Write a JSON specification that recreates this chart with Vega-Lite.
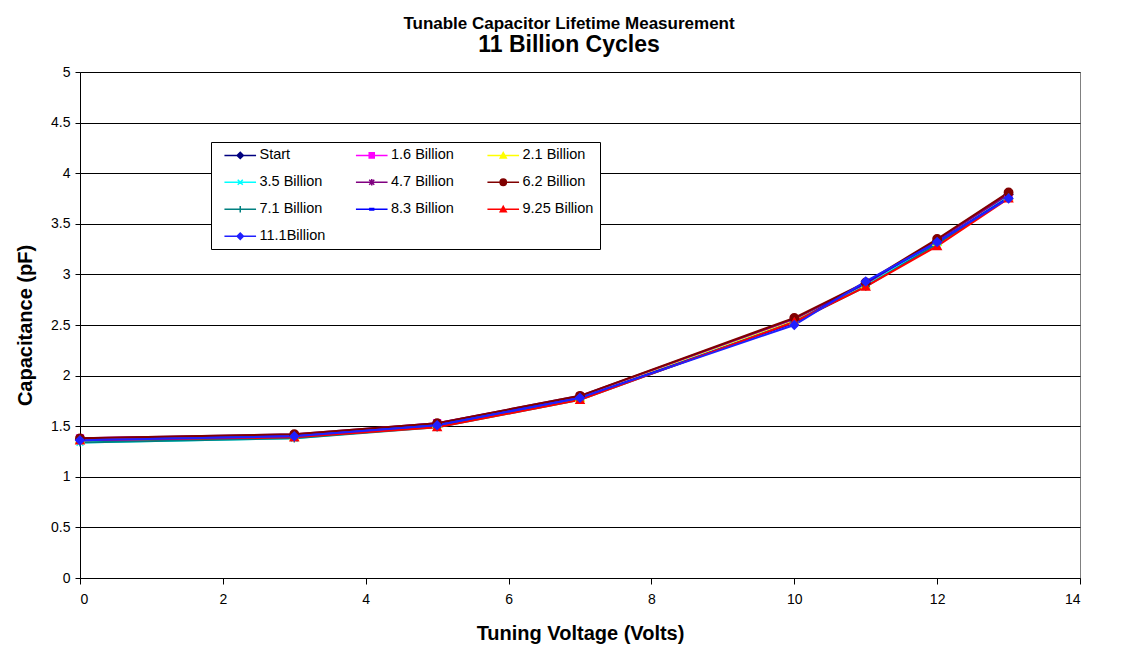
{
  "$schema": "https://vega.github.io/schema/vega-lite/v6.json",
  "width": 1000,
  "height": 506,
  "autosize": {"type": "none"},
  "padding": {"left": 80, "top": 72, "right": 58, "bottom": 77},
  "background": "white",
  "title": {
    "text": "Tunable Capacitor Lifetime Measurement",
    "subtitle": "11 Billion Cycles",
    "font": "Liberation Sans",
    "fontSize": 17,
    "fontWeight": "bold",
    "color": "black",
    "subtitleFont": "Liberation Sans",
    "subtitleFontSize": 23,
    "subtitleFontWeight": "bold",
    "subtitleColor": "black",
    "subtitlePadding": 1,
    "anchor": "middle",
    "dx": -11,
    "offset": 7
  },
  "data": {
    "values": [
      {"v": 0, "c": 1.37, "s": "Start"}, {"v": 3, "c": 1.41, "s": "Start"}, {"v": 5, "c": 1.52, "s": "Start"}, {"v": 7, "c": 1.79, "s": "Start"}, {"v": 10, "c": 2.55, "s": "Start"}, {"v": 11, "c": 2.91, "s": "Start"}, {"v": 12, "c": 3.33, "s": "Start"}, {"v": 13, "c": 3.79, "s": "Start"},
      {"v": 0, "c": 1.38, "s": "1.6 Billion"}, {"v": 3, "c": 1.41, "s": "1.6 Billion"}, {"v": 5, "c": 1.53, "s": "1.6 Billion"}, {"v": 7, "c": 1.79, "s": "1.6 Billion"}, {"v": 10, "c": 2.55, "s": "1.6 Billion"}, {"v": 11, "c": 2.9, "s": "1.6 Billion"}, {"v": 12, "c": 3.32, "s": "1.6 Billion"}, {"v": 13, "c": 3.78, "s": "1.6 Billion"},
      {"v": 0, "c": 1.37, "s": "2.1 Billion"}, {"v": 3, "c": 1.4, "s": "2.1 Billion"}, {"v": 5, "c": 1.52, "s": "2.1 Billion"}, {"v": 7, "c": 1.78, "s": "2.1 Billion"}, {"v": 10, "c": 2.54, "s": "2.1 Billion"}, {"v": 11, "c": 2.9, "s": "2.1 Billion"}, {"v": 12, "c": 3.32, "s": "2.1 Billion"}, {"v": 13, "c": 3.77, "s": "2.1 Billion"},
      {"v": 0, "c": 1.34, "s": "3.5 Billion"}, {"v": 3, "c": 1.38, "s": "3.5 Billion"}, {"v": 5, "c": 1.5, "s": "3.5 Billion"}, {"v": 7, "c": 1.77, "s": "3.5 Billion"}, {"v": 10, "c": 2.53, "s": "3.5 Billion"}, {"v": 11, "c": 2.89, "s": "3.5 Billion"}, {"v": 12, "c": 3.31, "s": "3.5 Billion"}, {"v": 13, "c": 3.77, "s": "3.5 Billion"},
      {"v": 0, "c": 1.38, "s": "4.7 Billion"}, {"v": 3, "c": 1.42, "s": "4.7 Billion"}, {"v": 5, "c": 1.53, "s": "4.7 Billion"}, {"v": 7, "c": 1.8, "s": "4.7 Billion"}, {"v": 10, "c": 2.56, "s": "4.7 Billion"}, {"v": 11, "c": 2.91, "s": "4.7 Billion"}, {"v": 12, "c": 3.34, "s": "4.7 Billion"}, {"v": 13, "c": 3.79, "s": "4.7 Billion"},
      {"v": 0, "c": 1.38, "s": "6.2 Billion"}, {"v": 3, "c": 1.42, "s": "6.2 Billion"}, {"v": 5, "c": 1.53, "s": "6.2 Billion"}, {"v": 7, "c": 1.8, "s": "6.2 Billion"}, {"v": 10, "c": 2.57, "s": "6.2 Billion"}, {"v": 11, "c": 2.92, "s": "6.2 Billion"}, {"v": 12, "c": 3.35, "s": "6.2 Billion"}, {"v": 13, "c": 3.81, "s": "6.2 Billion"},
      {"v": 0, "c": 1.34, "s": "7.1 Billion"}, {"v": 3, "c": 1.38, "s": "7.1 Billion"}, {"v": 5, "c": 1.49, "s": "7.1 Billion"}, {"v": 7, "c": 1.76, "s": "7.1 Billion"}, {"v": 10, "c": 2.53, "s": "7.1 Billion"}, {"v": 11, "c": 2.88, "s": "7.1 Billion"}, {"v": 12, "c": 3.3, "s": "7.1 Billion"}, {"v": 13, "c": 3.76, "s": "7.1 Billion"},
      {"v": 0, "c": 1.36, "s": "8.3 Billion"}, {"v": 3, "c": 1.4, "s": "8.3 Billion"}, {"v": 5, "c": 1.51, "s": "8.3 Billion"}, {"v": 7, "c": 1.78, "s": "8.3 Billion"}, {"v": 10, "c": 2.52, "s": "8.3 Billion"}, {"v": 11, "c": 2.92, "s": "8.3 Billion"}, {"v": 12, "c": 3.32, "s": "8.3 Billion"}, {"v": 13, "c": 3.76, "s": "8.3 Billion"},
      {"v": 0, "c": 1.36, "s": "9.25 Billion"}, {"v": 3, "c": 1.39, "s": "9.25 Billion"}, {"v": 5, "c": 1.49, "s": "9.25 Billion"}, {"v": 7, "c": 1.76, "s": "9.25 Billion"}, {"v": 10, "c": 2.53, "s": "9.25 Billion"}, {"v": 11, "c": 2.88, "s": "9.25 Billion"}, {"v": 12, "c": 3.28, "s": "9.25 Billion"}, {"v": 13, "c": 3.75, "s": "9.25 Billion"},
      {"v": 0, "c": 1.36, "s": "11.1Billion"}, {"v": 3, "c": 1.4, "s": "11.1Billion"}, {"v": 5, "c": 1.51, "s": "11.1Billion"}, {"v": 7, "c": 1.78, "s": "11.1Billion"}, {"v": 10, "c": 2.5, "s": "11.1Billion"}, {"v": 11, "c": 2.93, "s": "11.1Billion"}, {"v": 12, "c": 3.32, "s": "11.1Billion"}, {"v": 13, "c": 3.75, "s": "11.1Billion"}
    ]
  },
  "encoding": {
    "x": {
      "field": "v",
      "type": "quantitative",
      "scale": {"domain": [0, 14], "nice": false},
      "axis": {
        "title": "Tuning Voltage (Volts)",
        "values": [0, 2, 4, 6, 8, 10, 12, 14],
        "grid": false,
        "tickSize": 6,
        "labelPadding": 8,
        "titlePadding": 17
      }
    },
    "y": {
      "field": "c",
      "type": "quantitative",
      "scale": {"domain": [0, 5], "nice": false},
      "axis": {
        "title": "Capacitance (pF)",
        "values": [0, 0.5, 1, 1.5, 2, 2.5, 3, 3.5, 4, 4.5, 5],
        "labelExpr": "toString(datum.value)",
        "grid": true,
        "tickSize": 5,
        "labelPadding": 5,
        "titlePadding": 15
      }
    }
  },
  "layer": [
    {
      "mark": {"type": "line", "strokeWidth": 2},
      "encoding": {
        "color": {
          "field": "s",
          "type": "nominal",
          "scale": {
            "domain": ["Start", "1.6 Billion", "2.1 Billion", "3.5 Billion", "4.7 Billion", "6.2 Billion", "7.1 Billion", "8.3 Billion", "9.25 Billion", "11.1Billion"],
            "range": ["#000080", "#FF00FF", "#FFFF00", "#00FFFF", "#800080", "#800000", "#008080", "#0000FF", "#FF0000", "#2020FF"]
          },
          "legend": {
            "title": null,
            "orient": "none",
            "direction": "horizontal",
            "legendX": 131,
            "legendY": 70,
            "columns": 3,
            "gridAlign": "all",
            "columnPadding": 17.5,
            "rowPadding": 12,
            "padding": 6,
            "strokeColor": "black",
            "fillColor": "white",
            "symbolSize": 40,
            "symbolOffset": 16,
            "symbolStrokeWidth": 1.5,
            "labelOffset": 12,
            "labelFont": "Liberation Sans",
            "labelFontSize": 14.5,
            "labelColor": "black",
            "encode": {
              "symbols": {
                "update": {
                  "shape": {"signal": "'M-5,0H5' + ['M0,-1L1,0L0,1L-1,0Z', 'M-0.8,-0.8H0.8V0.8H-0.8Z', 'M0,-0.9L0.95,0.8H-0.95Z', 'M-0.8,-0.8L0.8,0.8M-0.8,0.8L0.8,-0.8', 'M-0.8,-0.8L0.8,0.8M-0.8,0.8L0.8,-0.8M0,-1V1', 'M1,0A1,1 0 1,1 -1,0A1,1 0 1,1 1,0Z', 'M-1,0H1M0,-1V1', 'M-0.6,-0.2H0.6V0.2H-0.6Z', 'M0,-0.9L0.95,0.8H-0.95Z', 'M0,-1L1,0L0,1L-1,0Z'][indexof(['Start', '1.6 Billion', '2.1 Billion', '3.5 Billion', '4.7 Billion', '6.2 Billion', '7.1 Billion', '8.3 Billion', '9.25 Billion', '11.1Billion'], datum.value)]"},
                  "fill": {"signal": "scale('color', datum.value)"},
                  "stroke": {"signal": "scale('color', datum.value)"},
                  "opacity": {"value": 1}
                }
              }
            }
          }
        }
      }
    },
    {
      "transform": [{"filter": "datum.s === 'Start'"}],
      "mark": {"type": "point", "shape": "M0,-1L1,0L0,1L-1,0Z", "filled": true, "fill": "#000080", "stroke": "#000080", "strokeWidth": 1.5, "size": 70, "opacity": 1}
    },
    {
      "transform": [{"filter": "datum.s === '1.6 Billion'"}],
      "mark": {"type": "point", "shape": "M-0.8,-0.8H0.8V0.8H-0.8Z", "filled": true, "fill": "#FF00FF", "stroke": "#FF00FF", "strokeWidth": 1.5, "size": 70, "opacity": 1}
    },
    {
      "transform": [{"filter": "datum.s === '2.1 Billion'"}],
      "mark": {"type": "point", "shape": "M0,-0.9L0.95,0.8H-0.95Z", "filled": true, "fill": "#FFFF00", "stroke": "#FFFF00", "strokeWidth": 1.5, "size": 70, "opacity": 1}
    },
    {
      "transform": [{"filter": "datum.s === '3.5 Billion'"}],
      "mark": {"type": "point", "shape": "M-0.8,-0.8L0.8,0.8M-0.8,0.8L0.8,-0.8", "filled": true, "fill": "#00FFFF", "stroke": "#00FFFF", "strokeWidth": 1.5, "size": 70, "opacity": 1}
    },
    {
      "transform": [{"filter": "datum.s === '4.7 Billion'"}],
      "mark": {"type": "point", "shape": "M-0.8,-0.8L0.8,0.8M-0.8,0.8L0.8,-0.8M0,-1V1", "filled": true, "fill": "#800080", "stroke": "#800080", "strokeWidth": 1.5, "size": 70, "opacity": 1}
    },
    {
      "transform": [{"filter": "datum.s === '6.2 Billion'"}],
      "mark": {"type": "point", "shape": "M1,0A1,1 0 1,1 -1,0A1,1 0 1,1 1,0Z", "filled": true, "fill": "#800000", "stroke": "#800000", "strokeWidth": 1.5, "size": 70, "opacity": 1}
    },
    {
      "transform": [{"filter": "datum.s === '7.1 Billion'"}],
      "mark": {"type": "point", "shape": "M-1,0H1M0,-1V1", "filled": true, "fill": "#008080", "stroke": "#008080", "strokeWidth": 1.5, "size": 70, "opacity": 1}
    },
    {
      "transform": [{"filter": "datum.s === '8.3 Billion'"}],
      "mark": {"type": "point", "shape": "M-0.6,-0.2H0.6V0.2H-0.6Z", "filled": true, "fill": "#0000FF", "stroke": "#0000FF", "strokeWidth": 1.5, "size": 70, "opacity": 1}
    },
    {
      "transform": [{"filter": "datum.s === '9.25 Billion'"}],
      "mark": {"type": "point", "shape": "M0,-0.9L0.95,0.8H-0.95Z", "filled": true, "fill": "#FF0000", "stroke": "#FF0000", "strokeWidth": 1.5, "size": 70, "opacity": 1}
    },
    {
      "transform": [{"filter": "datum.s === '11.1Billion'"}],
      "mark": {"type": "point", "shape": "M0,-1L1,0L0,1L-1,0Z", "filled": true, "fill": "#2020FF", "stroke": "#2020FF", "strokeWidth": 1.5, "size": 70, "opacity": 1}
    }
  ],
  "config": {
    "font": "Liberation Sans",
    "view": {"stroke": "#808080", "strokeWidth": 1},
    "axis": {
      "domainColor": "black",
      "domainWidth": 1,
      "tickColor": "black",
      "gridColor": "black",
      "gridWidth": 1,
      "gridOpacity": 1,
      "labelFont": "Liberation Sans",
      "labelFontSize": 14,
      "labelColor": "black",
      "titleFont": "Liberation Sans",
      "titleFontSize": 20,
      "titleFontWeight": "bold",
      "titleColor": "black"
    }
  }
}
